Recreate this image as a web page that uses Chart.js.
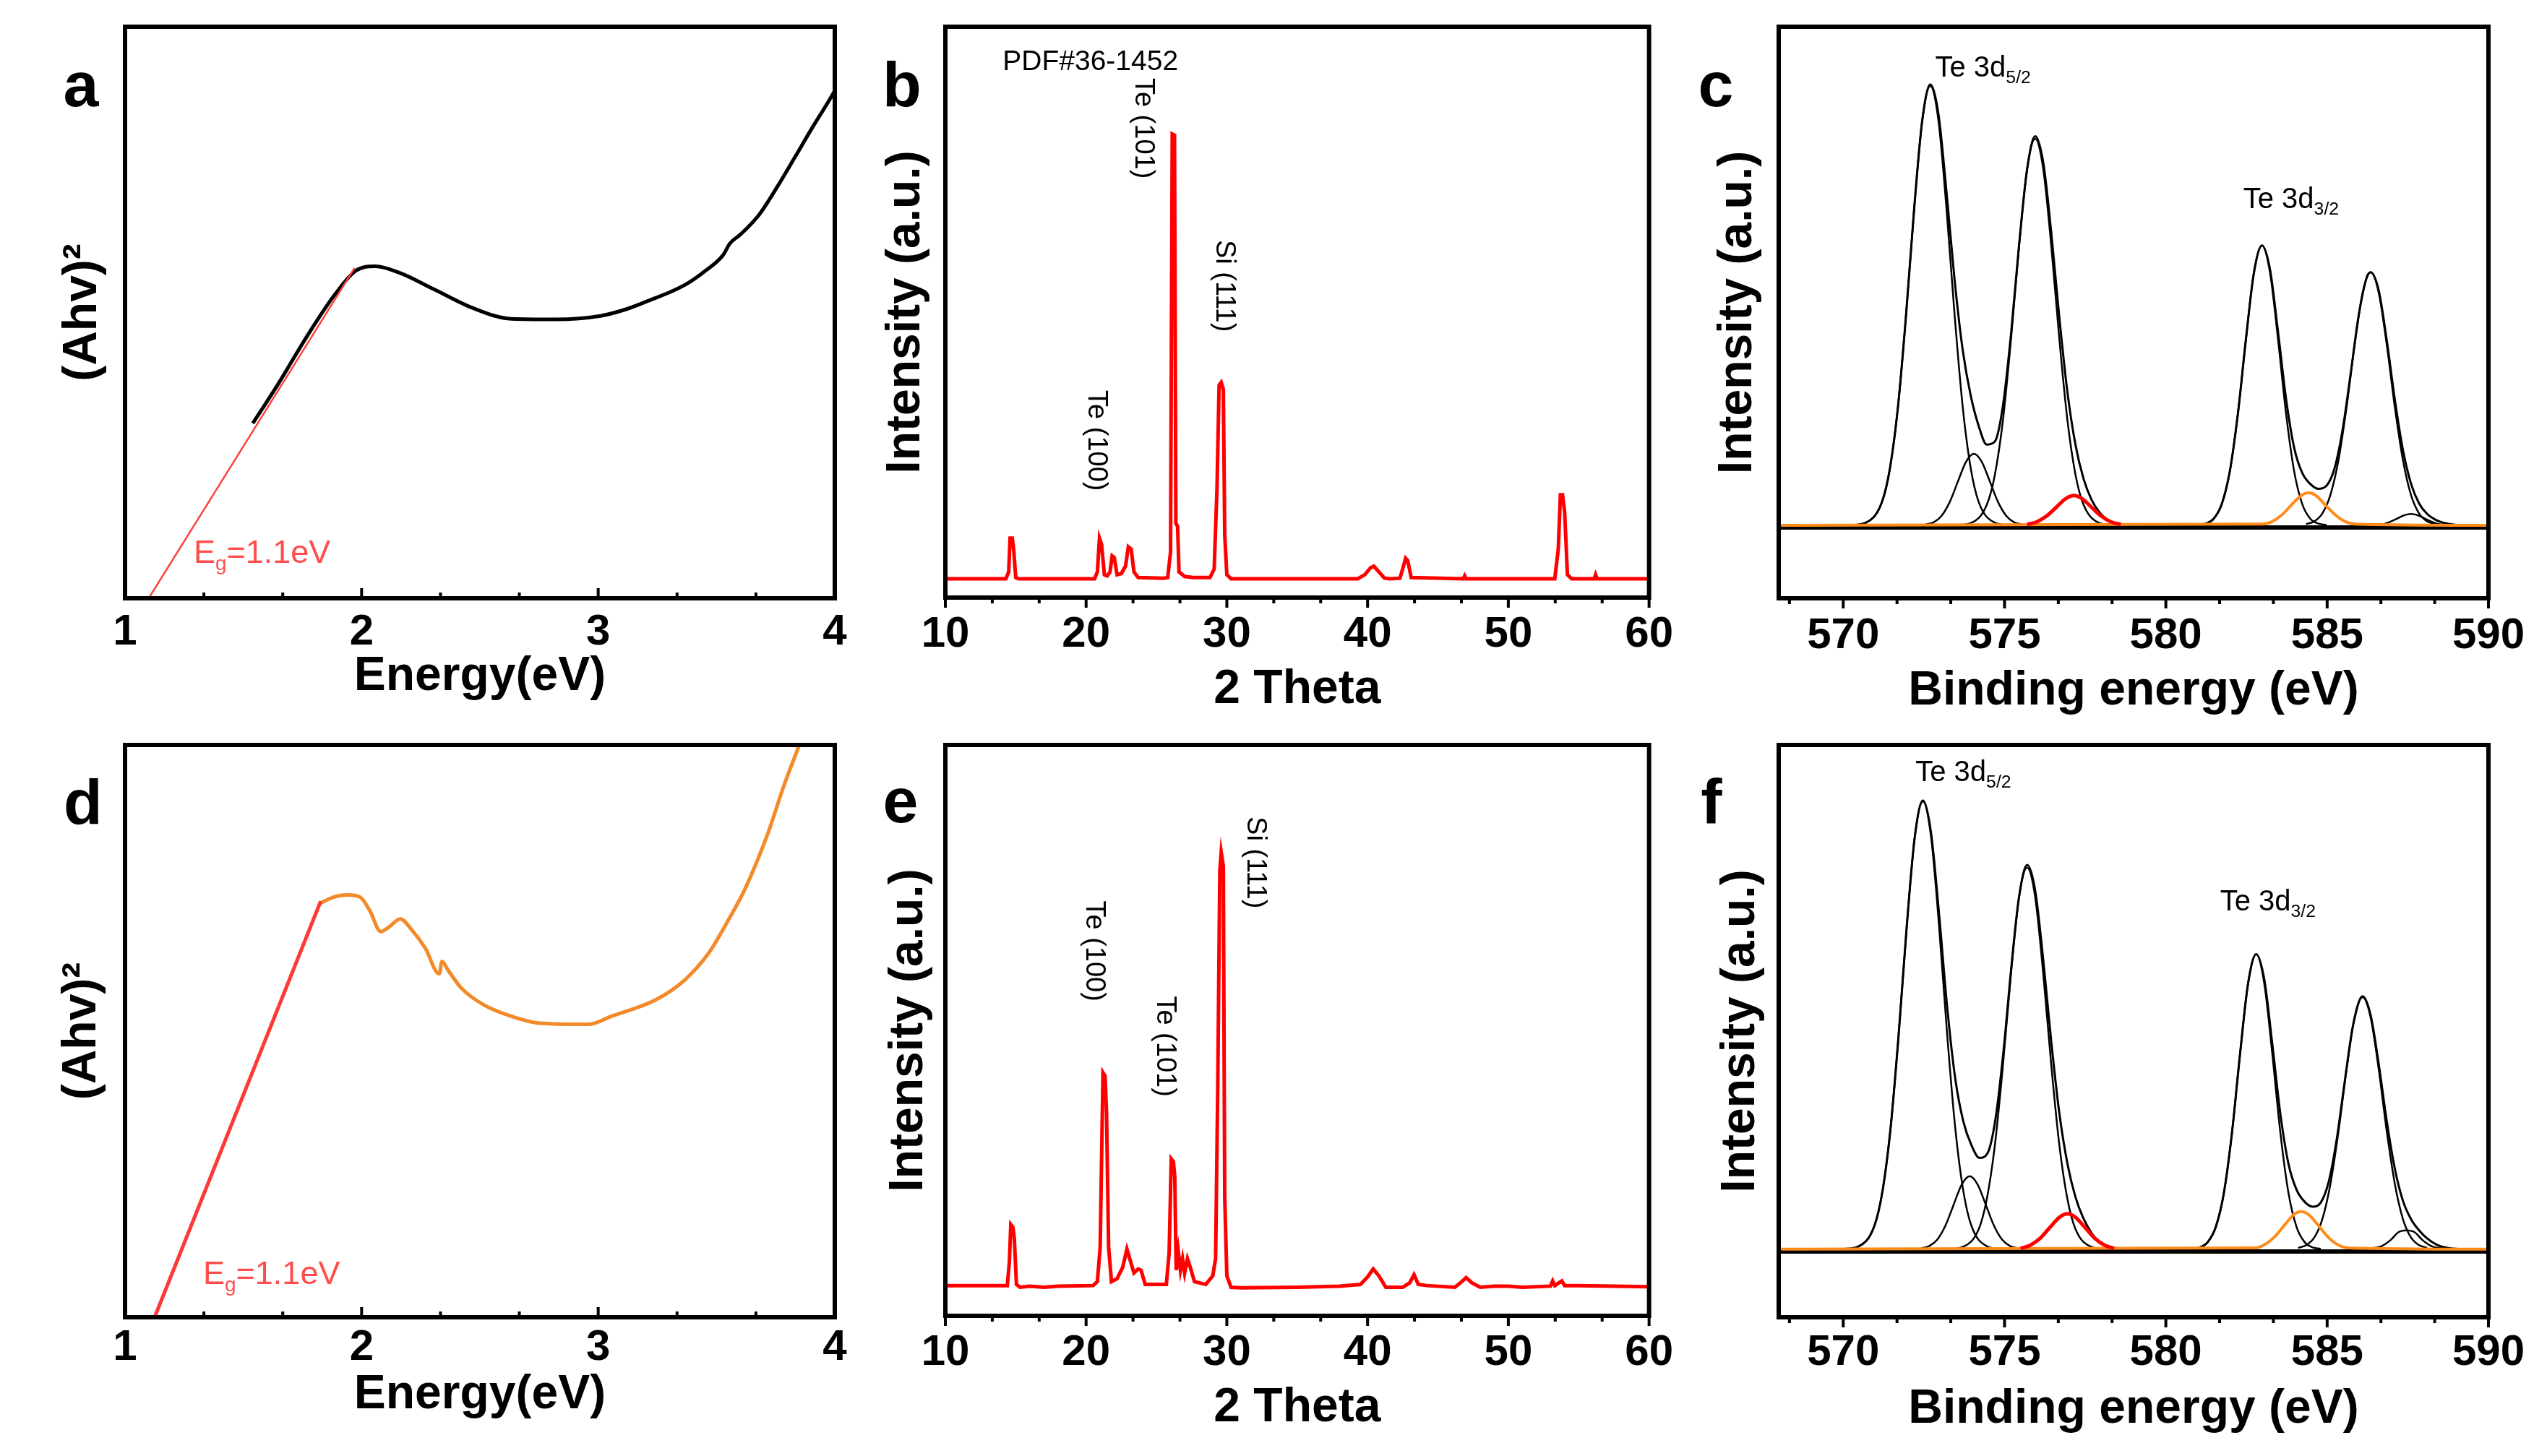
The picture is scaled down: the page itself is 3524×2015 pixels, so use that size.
<!DOCTYPE html>
<html>
<head>
<meta charset="utf-8">
<title>Tauc plots, XRD and Te 3d XPS</title>
<script src="https://cdn.jsdelivr.net/npm/chart.js@4.4.0/dist/chart.umd.min.js"></script>
<style>
  html, body { margin: 0; padding: 0; background: #fff; }
  #fig { position: relative; width: 3524px; height: 2015px; }
  canvas { position: absolute; }
</style>
</head>
<body>
<div id="fig">
  <canvas id="pa" width="1190" height="1000" style="left:0px;top:0px"></canvas>
  <canvas id="pb" width="1140" height="1000" style="left:1190px;top:0px"></canvas>
  <canvas id="pc" width="1194" height="1000" style="left:2330px;top:0px"></canvas>
  <canvas id="pd" width="1190" height="1015" style="left:0px;top:1000px"></canvas>
  <canvas id="pe" width="1140" height="1015" style="left:1190px;top:1000px"></canvas>
  <canvas id="pf" width="1194" height="1015" style="left:2330px;top:1000px"></canvas>
</div>
<script>
// ---- tick labels ----
const energyTicks = [1, 2, 3, 4];
const thetaTicks = [10, 20, 30, 40, 50, 60];
const bindingTicks = [570, 575, 580, 585, 590];

// ---- a: Tauc plot, sample 1 ----
const aEnergy = [1.54, 1.646, 1.764, 1.881, 1.975, 2.058, 2.163, 2.304, 2.469, 2.633, 2.821, 3.009, 3.12, 3.221, 3.3, 3.374, 3.45, 3.527, 3.557, 3.6, 3.68, 3.76, 3.832, 3.9, 3.97, 4.0];
const aAbs = [30.6, 37.4, 45.5, 52.8, 57.3, 58.1, 56.9, 54.1, 50.8, 48.9, 48.8, 49.4, 50.6, 52.2, 53.5, 55.0, 57.2, 60.0, 62.1, 63.6, 67.1, 72.2, 77.2, 82.0, 86.7, 88.8];
const aFitE = [1.1, 1.97];
const aFitY = [0, 57.8];

// ---- d: Tauc plot, sample 2 ----
const dEnergy = [1.823, 1.881, 1.94, 1.994, 2.034, 2.081, 2.116, 2.163, 2.21, 2.269, 2.328, 2.34, 2.363, 2.422, 2.516, 2.633, 2.751, 2.962, 3.056, 3.244, 3.362, 3.468, 3.55, 3.62, 3.714, 3.785, 3.85];
const dAbs = [72.3, 73.4, 73.8, 73.4, 71.1, 67.4, 68.2, 69.6, 67.8, 64.5, 60.0, 62.2, 60.8, 57.5, 54.6, 52.6, 51.4, 51.2, 52.6, 55.5, 58.8, 63.7, 69.4, 74.8, 84.2, 92.9, 100];
const dFitE = [1.125, 1.827];
const dFitY = [0, 72.7];

// ---- b: XRD, sample 1 ----
const bTheta = [10, 14.3, 14.5, 14.6, 14.75, 14.85, 15.0, 15.2, 20.6, 20.8, 20.95, 21.1, 21.3, 21.5, 21.7, 21.85, 22.0, 22.2, 22.5, 22.8, 23.0, 23.2, 23.4, 23.7,
  25.5, 25.8, 26.0, 26.12, 26.28, 26.38, 26.5, 26.6, 27.0, 27.6, 28.8, 29.1, 29.3, 29.45, 29.6, 29.75, 29.85, 30.0, 30.3,
  39.3, 39.8, 40.2, 40.45, 40.8, 41.2, 41.6, 42.3, 42.55, 42.7, 42.85, 43.1, 46.8, 46.9, 47.0, 53.3, 53.55, 53.7, 53.85, 54.0, 54.2, 54.5, 56.1, 56.2, 56.3, 60];
const bInt = [3.3, 3.3, 4.5, 10.4, 10.4, 8.5, 3.5, 3.3, 3.3, 4.5, 10.4, 9.3, 4.0, 3.8, 4.5, 7.3, 7.0, 4.0, 4.2, 5.5, 8.9, 8.5, 4.5, 3.5,
  3.4, 3.5, 8.0, 81.2, 81.0, 13, 12.5, 4.5, 3.7, 3.5, 3.5, 5.0, 19.1, 37.2, 37.7, 36.5, 11, 4.0, 3.3,
  3.3, 4.0, 5.2, 5.5, 4.5, 3.4, 3.3, 3.4, 5.5, 6.9, 6.5, 3.5, 3.3, 3.8, 3.3, 3.3, 8.5, 18.0, 18.0, 15.0, 4.0, 3.3, 3.3, 4.0, 3.3, 3.3];

// ---- e: XRD, sample 2 ----
const eTheta = [10, 14.4, 14.55, 14.65, 14.8, 14.9, 15.05, 15.3, 16, 17, 18, 20.5, 20.8, 21.0, 21.1, 21.2, 21.35, 21.45, 21.6, 21.8, 22.2, 22.6, 22.9, 23.1, 23.4, 23.7, 23.9, 24.2,
  25.7, 25.9, 26.05, 26.2, 26.3, 26.4, 26.55, 26.7, 26.85, 27.0, 27.2, 27.4, 27.7, 28.5, 29.0, 29.2, 29.35, 29.5, 29.6, 29.75, 29.85, 30.0, 30.3, 31,
  35, 38, 39.5, 40.0, 40.4, 40.8, 41.3, 42.5, 43.0, 43.3, 43.6, 44.2, 46.2, 46.7, 47.0, 47.4, 48, 49, 50, 51, 53.0, 53.15, 53.3, 53.8, 54.0, 55, 60];
const eInt = [5.3, 5.3, 9.5, 16.0, 15.5, 13.5, 5.5, 5.0, 5.2, 5.0, 5.2, 5.3, 6.0, 12, 27.5, 42.6, 42.0, 35.6, 12, 6.0, 6.5, 8.5, 11.7, 10, 7.5, 8.2, 8.0, 5.5,
  5.5, 11, 27.5, 27, 24.4, 8, 11.3, 8, 10, 7.5, 10.0, 8.5, 6.0, 5.5, 7.0, 10, 39.3, 78, 81.2, 78.8, 20.7, 7, 5.0, 4.9,
  5.0, 5.2, 5.5, 6.8, 8.2, 7.0, 5.0, 5.0, 5.8, 7.2, 5.5, 5.3, 5.0, 6.0, 6.7, 5.8, 5.0, 5.2, 5.2, 5.0, 5.2, 6.1, 5.3, 6.1, 5.3, 5.3, 5.1];

// ---- c: Te 3d XPS, sample 1 (components and envelope) ----
const cBase = [568, 590];
const cBaseY = [-0.5, -0.5];
const c1x = [570.2, 570.7, 571.2, 571.45, 571.7, 571.95, 572.2, 572.45, 572.7, 572.95, 573.2, 573.45, 573.7, 573.95, 574.2, 574.7, 575.2];
const c1y = [0, 0.6, 5.3, 13.1, 27.2, 48.1, 72.2, 92.2, 100, 92.2, 72.2, 48.1, 27.2, 13.1, 5.3, 0.6, 0];
const c2x = [572.55, 572.8, 573.05, 573.3, 573.55, 573.8, 574.05, 574.3, 574.55, 574.8, 575.05, 575.3, 575.55];
const c2y = [0.2, 0.7, 2.2, 5.3, 9.9, 14.4, 16.3, 14.4, 9.9, 5.3, 2.2, 0.7, 0.2];
const c3x = [573.45, 573.95, 574.45, 574.7, 574.95, 575.2, 575.45, 575.7, 575.95, 576.2, 576.45, 576.7, 576.95, 577.2, 577.45, 577.95, 578.45];
const c3y = [0, 0.5, 4.7, 11.5, 23.9, 42.3, 63.5, 81.1, 88, 81.1, 63.5, 42.3, 23.9, 11.5, 4.7, 0.5, 0];
const c4x = [580.98, 581.23, 581.48, 581.73, 581.98, 582.23, 582.48, 582.73, 582.98, 583.23, 583.48, 583.73, 583.98, 584.23, 584.48, 584.73, 584.98];
const c4y = [0.1, 0.4, 1.5, 4.8, 12.2, 25.2, 42.2, 57.5, 63.7, 57.5, 42.2, 25.2, 12.2, 4.8, 1.5, 0.4, 0.1];
const c5x = [584.35, 584.6, 584.85, 585.1, 585.35, 585.6, 585.85, 586.1, 586.35, 586.6, 586.85, 587.1, 587.35, 587.6, 587.85, 588.1, 588.35];
const c5y = [0.3, 0.9, 2.7, 6.9, 14.8, 26.8, 41.0, 52.9, 57.6, 52.9, 41.0, 26.8, 14.8, 6.9, 2.7, 0.9, 0.3];
const c6x = [586.5, 586.8, 587.1, 587.35, 587.6, 587.85, 588.1, 588.4, 588.7];
const c6y = [0.1, 0.4, 1.3, 2.2, 2.6, 2.2, 1.3, 0.4, 0.1];
const cRedX = [575.7, 576.0, 576.3, 576.6, 576.9, 577.15, 577.4, 577.7, 578.0, 578.3, 578.6];
const cRedY = [0.2, 0.8, 2.1, 4.1, 6.1, 6.8, 6.1, 4.1, 2.1, 0.8, 0.2];
const cOrgX = [568, 583.0, 583.3, 583.6, 583.9, 584.2, 584.42, 584.65, 584.95, 585.25, 585.55, 585.85, 590];
const cOrgY = [0, 0.3, 0.9, 2.4, 4.7, 6.8, 7.4, 6.8, 4.6, 2.4, 0.9, 0.3, 0];
const cSumX = [570.2, 570.7, 571.2, 571.45, 571.7, 571.95, 572.2, 572.45, 572.7, 572.95, 573.2, 573.45, 573.7, 573.95, 574.2, 574.45, 574.7, 574.95, 575.2, 575.45, 575.7, 575.95, 576.2, 576.45, 576.7, 576.95, 577.2, 577.45, 577.7, 577.95, 578.2, 578.6, 579,
  580.5, 580.98, 581.23, 581.48, 581.73, 581.98, 582.23, 582.48, 582.73, 582.98, 583.23, 583.48, 583.73, 583.98, 584.23, 584.48, 584.73, 584.98, 585.23, 585.48, 585.73, 585.98, 586.23, 586.35, 586.6, 586.85, 587.1, 587.35, 587.6, 587.85, 588.1, 588.35, 588.6, 589.0, 589.4];
const cSumY = [0, 0.6, 5.3, 13.1, 27.2, 48.1, 72.2, 92.2, 100.4, 93.7, 76.0, 56.0, 40.1, 29.6, 22.6, 18.4, 19.1, 27.2, 43.5, 63.8, 81.1, 88.6, 82.6, 66.5, 47.2, 30.3, 18.3, 10.6, 5.8, 2.9, 1.2, 0.2, 0,
  0, 0.1, 0.4, 1.5, 4.8, 12.2, 25.2, 42.2, 57.5, 63.7, 58.2, 43.9, 28.6, 17.6, 11.9, 9.4, 8.3, 9.0, 13.0, 21.8, 34.6, 47.9, 56.5, 57.6, 53.4, 42.0, 28.5, 17.1, 9.5, 5.0, 2.6, 1.3, 0.6, 0.1, 0];

// ---- f: Te 3d XPS, sample 2 (components and envelope) ----
const fBase = [568, 590];
const fBaseY = [-0.5, -0.5];
const f1x = [569.97, 570.47, 570.97, 571.22, 571.47, 571.72, 571.97, 572.22, 572.47, 572.72, 572.97, 573.22, 573.47, 573.72, 573.97, 574.47, 574.97];
const f1y = [0, 0.6, 5.3, 13.1, 27.2, 48.1, 72.2, 92.2, 100, 92.2, 72.2, 48.1, 27.2, 13.1, 5.3, 0.6, 0];
const f2x = [572.42, 572.67, 572.92, 573.17, 573.42, 573.67, 573.92, 574.17, 574.42, 574.67, 574.92, 575.17, 575.42];
const f2y = [0.2, 0.7, 2.2, 5.3, 9.9, 14.4, 16.3, 14.4, 9.9, 5.3, 2.2, 0.7, 0.2];
const f3x = [573.2, 573.7, 574.2, 574.45, 574.7, 574.95, 575.2, 575.45, 575.7, 575.95, 576.2, 576.45, 576.7, 576.95, 577.2, 577.7, 578.2];
const f3y = [0, 0.5, 4.5, 11.2, 23.2, 41.0, 61.5, 78.6, 85.2, 78.6, 61.5, 41.0, 23.2, 11.2, 4.5, 0.5, 0];
const f4x = [580.8, 581.05, 581.3, 581.55, 581.8, 582.05, 582.3, 582.55, 582.8, 583.05, 583.3, 583.55, 583.8, 584.05, 584.3, 584.55, 584.8];
const f4y = [0.1, 0.4, 1.6, 5.0, 12.6, 26.0, 43.6, 59.4, 65.9, 59.4, 43.6, 26.0, 12.6, 5.0, 1.6, 0.4, 0.1];
const f5x = [584.1, 584.35, 584.6, 584.85, 585.1, 585.35, 585.6, 585.85, 586.1, 586.35, 586.6, 586.85, 587.1, 587.35, 587.6, 587.85, 588.1];
const f5y = [0.3, 0.9, 2.6, 6.7, 14.5, 26.2, 40.1, 51.7, 56.3, 51.7, 40.1, 26.2, 14.5, 6.7, 2.6, 0.9, 0.3];
const f6x = [586.36, 586.66, 586.96, 587.21, 587.46, 587.71, 587.96, 588.26, 588.56];
const f6y = [0.2, 0.6, 2.0, 3.8, 4.2, 3.8, 2.0, 0.6, 0.2];
const fRedX = [575.5, 575.8, 576.1, 576.4, 576.7, 576.95, 577.2, 577.5, 577.8, 578.1, 578.4];
const fRedY = [0.2, 0.9, 2.4, 4.8, 7.1, 7.9, 7.1, 4.8, 2.4, 0.9, 0.2];
const fOrgX = [568, 582.78, 583.08, 583.38, 583.68, 583.98, 584.2, 584.43, 584.73, 585.03, 585.33, 585.63, 590];
const fOrgY = [0, 0.3, 1.1, 2.8, 5.4, 7.8, 8.4, 7.7, 5.3, 2.7, 1.0, 0.3, 0];
const fSumX = [569.97, 570.47, 570.97, 571.22, 571.47, 571.72, 571.97, 572.22, 572.47, 572.72, 572.97, 573.22, 573.47, 573.72, 573.97, 574.22, 574.47, 574.72, 574.97, 575.22, 575.45, 575.7, 575.95, 576.2, 576.45, 576.7, 576.95, 577.2, 577.45, 577.7, 577.95, 578.4, 578.8,
  580.3, 580.8, 581.05, 581.3, 581.55, 581.8, 582.05, 582.3, 582.55, 582.8, 583.05, 583.3, 583.55, 583.8, 584.05, 584.3, 584.55, 584.8, 585.05, 585.3, 585.55, 585.8, 586.1, 586.35, 586.6, 586.85, 587.1, 587.35, 587.6, 587.85, 588.1, 588.4, 588.8, 589.2];
const fSumY = [0, 0.6, 5.3, 13.1, 27.2, 48.1, 72.2, 92.2, 100.2, 93.1, 74.9, 54.2, 38.2, 28.6, 23.3, 20.4, 21.4, 29.1, 44.4, 63.7, 78.7, 85.8, 80.1, 64.6, 46.2, 30.3, 19.1, 11.6, 6.8, 3.6, 1.5, 0.2, 0,
  0, 0.1, 0.4, 1.6, 5.0, 12.6, 26.0, 43.6, 59.4, 65.9, 60.3, 45.8, 30.2, 19.1, 13.3, 10.6, 9.5, 10.4, 15.1, 24.7, 37.7, 49.9, 56.5, 52.2, 41.3, 28.5, 17.9, 10.8, 6.7, 4.2, 2.4, 1.0, 0.2, 0];

const FONT = "'Liberation Sans', Arial, sans-serif";
Chart.defaults.font.family = FONT;
Chart.defaults.color = '#000';

function pts(xs, ys) {
  return xs.map((x, i) => ({ x: x, y: ys[i] }));
}

function line(xs, ys, color, width, smooth) {
  return {
    data: pts(xs, ys),
    showLine: true,
    borderColor: color,
    borderWidth: width,
    pointRadius: 0,
    tension: 0,
    cubicInterpolationMode: smooth ? 'monotone' : 'default',
  };
}

// draws a run of text pieces, some of them as subscripts
function drawRich(ctx, parts, x, y, size, color) {
  ctx.fillStyle = color;
  ctx.textAlign = 'left';
  ctx.textBaseline = 'alphabetic';
  let cx = x;
  for (const p of parts) {
    const s = p.sub ? size * 0.62 : size;
    ctx.font = s + 'px ' + FONT;
    ctx.fillText(p.text, cx, y + (p.sub ? size * 0.22 : 0));
    cx += ctx.measureText(p.text).width;
  }
}

// frame, tick marks, panel letter and in-plot labels
const decor = {
  id: 'decor',
  afterDatasetsDraw(chart, args, o) {
    const { ctx, chartArea: ca } = chart;
    const xs = chart.scales.x, ys = chart.scales.y;
    ctx.save();
    ctx.strokeStyle = '#000';
    ctx.lineWidth = 6;
    ctx.strokeRect(ca.left, ca.top, ca.right - ca.left, ca.bottom - ca.top);

    const minor = o.step / 3;
    const dir = o.inward ? -1 : 1;
    ctx.lineWidth = 4;
    ctx.beginPath();
    for (let k = Math.ceil(xs.min / minor - 1e-6); k * minor <= xs.max + 1e-6; k++) {
      const px = xs.getPixelForValue(k * minor);
      const len = k % 3 === 0 ? 14 : 8;
      ctx.moveTo(px, ca.bottom);
      ctx.lineTo(px, ca.bottom + dir * len);
    }
    ctx.stroke();

    ctx.fillStyle = '#000';
    ctx.font = 'bold 88px ' + FONT;
    ctx.textAlign = 'center';
    ctx.textBaseline = 'alphabetic';
    ctx.fillText(o.letter.text, ca.left + o.letter.dx, ca.top + o.letter.dy);

    for (const t of o.texts || []) {
      const px = xs.getPixelForValue(t.x), py = ys.getPixelForValue(t.y);
      if (t.rotate) {
        ctx.save();
        ctx.translate(px, py);
        ctx.rotate(Math.PI / 2);
        ctx.fillStyle = '#000';
        ctx.font = t.size + 'px ' + FONT;
        ctx.textAlign = 'center';
        ctx.textBaseline = 'middle';
        ctx.fillText(t.parts[0].text, 0, 0);
        ctx.restore();
      } else {
        drawRich(ctx, t.parts, px, py, t.size, t.color || '#000');
      }
    }
    ctx.restore();
  },
};

function panel(id, cfg) {
  return new Chart(document.getElementById(id), {
    type: 'scatter',
    data: { datasets: cfg.datasets },
    options: {
      responsive: false,
      animation: false,
      devicePixelRatio: 1,
      layout: { padding: cfg.pad },
      plugins: {
        legend: { display: false },
        tooltip: { enabled: false },
        decor: cfg.decor,
      },
      scales: {
        x: {
          type: 'linear',
          min: cfg.xMin,
          max: cfg.xMax,
          grid: { display: false, drawTicks: false },
          border: { display: false },
          ticks: { font: { size: 60, weight: 'bold' }, color: '#000', padding: cfg.tickPad, maxRotation: 0, autoSkip: false },
          afterBuildTicks: (s) => { s.ticks = cfg.xTicks.map((v) => ({ value: v })); },
          afterFit: (s) => { s.height = cfg.xH; },
          title: { display: true, text: cfg.xTitle, color: '#000', font: { size: 66, weight: 'bold' }, padding: { top: 0, bottom: cfg.xTitlePad } },
        },
        y: {
          type: 'linear',
          min: cfg.yMin,
          max: cfg.yMax,
          ticks: { display: false },
          grid: { display: false, drawTicks: false },
          border: { display: false },
          afterFit: (s) => { s.width = cfg.yW; },
          title: { display: true, text: cfg.yTitle, color: '#000', font: { size: 66, weight: 'bold' }, padding: { top: cfg.yTitlePad, bottom: 0 } },
        },
      },
    },
    plugins: [decor],
  });
}

const egLabel = [{ text: 'E' }, { text: 'g', sub: true }, { text: '=1.1eV' }];
const d52 = [{ text: 'Te 3d' }, { text: '5/2', sub: true }];
const d32 = [{ text: 'Te 3d' }, { text: '3/2', sub: true }];

// a
panel('pa', {
  datasets: [
    line(aFitE, aFitY, '#ff4040', 2.5, false),
    line(aEnergy, aAbs, '#000', 5, true),
  ],
  xMin: 1, xMax: 4, yMin: 0, yMax: 100, xTicks: energyTicks,
  pad: { left: 0, top: 37, right: 35, bottom: 0 }, yW: 173, xH: 172,
  yTitlePad: 75, xTitlePad: 24, tickPad: 11,
  xTitle: 'Energy(eV)', yTitle: '(Ahv)²',
  decor: { step: 1, inward: true, letter: { text: 'a', dx: -61, dy: 110 },
    texts: [{ x: 1.29, y: 6.2, size: 45, color: '#ff4d4d', parts: egLabel }] },
});

// b
panel('pb', {
  datasets: [line(bTheta, bInt, '#ff0000', 5, false)],
  xMin: 10, xMax: 60, yMin: 0, yMax: 100, xTicks: thetaTicks,
  pad: { left: 0, top: 37, right: 38, bottom: 0 }, yW: 118, xH: 173,
  yTitlePad: 24, xTitlePad: 6, tickPad: 15,
  xTitle: '2 Theta', yTitle: 'Intensity (a.u.)',
  decor: { step: 10, inward: false, letter: { text: 'b', dx: -60, dy: 110 },
    texts: [
      { x: 14.07, y: 92.4, size: 39, parts: [{ text: 'PDF#36-1452' }] },
      { x: 24.07, y: 82.2, size: 38, rotate: true, parts: [{ text: 'Te (101)' }] },
      { x: 29.82, y: 54.6, size: 38, rotate: true, parts: [{ text: 'Si (111)' }] },
      { x: 20.72, y: 27.5, size: 38, rotate: true, parts: [{ text: 'Te (100)' }] },
    ] },
});

// c
panel('pc', {
  datasets: [
    line(cRedX, cRedY, '#ff0000', 5, true),
    line(cOrgX, cOrgY, '#ff8c1a', 4, true),
    line(cSumX, cSumY, '#000', 3, true),
    line(c1x, c1y, '#000', 2.5, true),
    line(c2x, c2y, '#000', 2.5, true),
    line(c3x, c3y, '#000', 2.5, true),
    line(c4x, c4y, '#000', 2.5, true),
    line(c5x, c5y, '#000', 2.5, true),
    line(c6x, c6y, '#000', 2.5, true),
    line(cBase, cBaseY, '#000', 6, false),
  ],
  xMin: 568, xMax: 590, yMin: -16.6, yMax: 113.5, xTicks: bindingTicks,
  pad: { left: 0, top: 37, right: 81, bottom: 0 }, yW: 131, xH: 172,
  yTitlePad: 35, xTitlePad: 4, tickPad: 16,
  xTitle: 'Binding energy (eV)', yTitle: 'Intensity (a.u.)',
  decor: { step: 5, inward: false, letter: { text: 'c', dx: -87, dy: 110 },
    texts: [
      { x: 572.85, y: 102.1, size: 40, parts: d52 },
      { x: 582.4, y: 72.2, size: 40, parts: d32 },
    ] },
});

// d
panel('pd', {
  datasets: [
    line(dFitE, dFitY, '#ff3838', 5, false),
    line(dEnergy, dAbs, '#f28a2a', 5, true),
  ],
  xMin: 1, xMax: 4, yMin: 0, yMax: 100, xTicks: energyTicks,
  pad: { left: 0, top: 31, right: 35, bottom: 0 }, yW: 173, xH: 192,
  yTitlePad: 74, xTitlePad: 45, tickPad: 6,
  xTitle: 'Energy(eV)', yTitle: '(Ahv)²',
  decor: { step: 1, inward: true, letter: { text: 'd', dx: -58, dy: 109 },
    texts: [{ x: 1.33, y: 5.8, size: 45, color: '#ff4d4d', parts: egLabel }] },
});

// e
panel('pe', {
  datasets: [line(eTheta, eInt, '#ff0000', 5, false)],
  xMin: 10, xMax: 60, yMin: 0, yMax: 100, xTicks: thetaTicks,
  pad: { left: 0, top: 31, right: 39, bottom: 0 }, yW: 118, xH: 194,
  yTitlePad: 28, xTitlePad: 27, tickPad: 15,
  xTitle: '2 Theta', yTitle: 'Intensity (a.u.)',
  decor: { step: 10, inward: false, letter: { text: 'e', dx: -62, dy: 107 },
    texts: [
      { x: 20.53, y: 63.9, size: 38, rotate: true, parts: [{ text: 'Te (100)' }] },
      { x: 25.56, y: 47.2, size: 38, rotate: true, parts: [{ text: 'Te (101)' }] },
      { x: 32.02, y: 79.4, size: 38, rotate: true, parts: [{ text: 'Si (111)' }] },
    ] },
});

// f
panel('pf', {
  datasets: [
    line(fRedX, fRedY, '#ff0000', 5, true),
    line(fOrgX, fOrgY, '#ff8c1a', 4, true),
    line(fSumX, fSumY, '#000', 3, true),
    line(f1x, f1y, '#000', 2.5, true),
    line(f2x, f2y, '#000', 2.5, true),
    line(f3x, f3y, '#000', 2.5, true),
    line(f4x, f4y, '#000', 2.5, true),
    line(f5x, f5y, '#000', 2.5, true),
    line(f6x, f6y, '#000', 2.5, true),
    line(fBase, fBaseY, '#000', 6, false),
  ],
  xMin: 568, xMax: 590, yMin: -15.2, yMax: 112.6, xTicks: bindingTicks,
  pad: { left: 0, top: 31, right: 81, bottom: 0 }, yW: 131, xH: 192,
  yTitlePad: 39, xTitlePad: 25, tickPad: 13,
  xTitle: 'Binding energy (eV)', yTitle: 'Intensity (a.u.)',
  decor: { step: 5, inward: false, letter: { text: 'f', dx: -93, dy: 108 },
    texts: [
      { x: 572.24, y: 104.5, size: 40, parts: d52 },
      { x: 581.68, y: 75.6, size: 40, parts: d32 },
    ] },
});
</script>
</body>
</html>
